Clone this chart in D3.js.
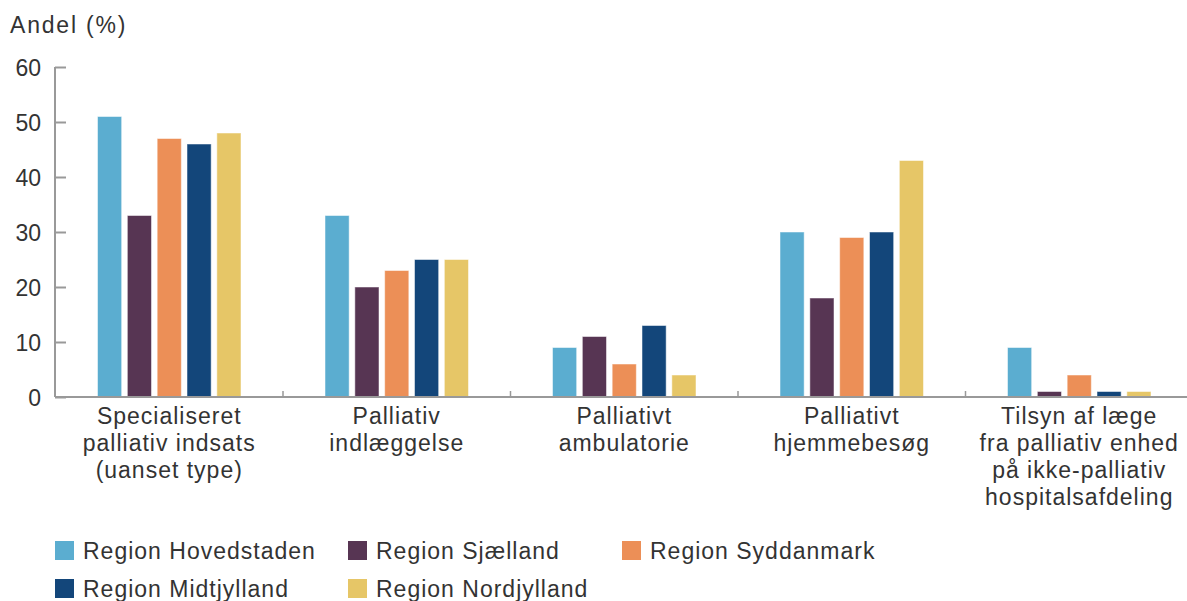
<!DOCTYPE html>
<html>
<head>
  <meta charset="utf-8">
  <title>Andel (%)</title>
  <style type="text/css">
    body { margin: 0; background: #fff; }
    text { font-family: "Liberation Sans", Arial, sans-serif; fill: #333; }
    .tick text { font-size: 23px; }
    .cat { font-size: 23px; letter-spacing: 1px; }
    .leg { font-size: 23px; letter-spacing: 1px; }
  </style>
</head>
<body>
<script src="https://cdnjs.cloudflare.com/ajax/libs/d3/7.8.5/d3.min.js"></script>
<script>
// data
var categories = [
  ['Specialiseret', 'palliativ indsats', '(uanset type)'],
  ['Palliativ', 'indlæggelse'],
  ['Palliativt', 'ambulatorie'],
  ['Palliativt', 'hjemmebesøg'],
  ['Tilsyn af læge', 'fra palliativ enhed', 'på ikke-palliativ', 'hospitalsafdeling']
];
var regions = ['Region Hovedstaden', 'Region Sjælland', 'Region Syddanmark', 'Region Midtjylland', 'Region Nordjylland'];
var colors = ['#5badd0', '#573553', '#ec8f57', '#13467a', '#e6c667'];
var hovedstaden = [51, 33, 9, 30, 9];
var sjaelland   = [33, 20, 11, 18, 1];
var syddanmark  = [47, 23, 6, 29, 4];
var midtjylland = [46, 25, 13, 30, 1];
var nordjylland = [48, 25, 4, 43, 1];
var yTicks = [0, 10, 20, 30, 40, 50, 60];

var series = [hovedstaden, sjaelland, syddanmark, midtjylland, nordjylland];

var W = 1187, H = 601;
var svg = d3.select('body').append('svg')
  .attr('width', W)
  .attr('height', H);

var x = d3.scaleBand()
  .domain(d3.range(categories.length))
  .range([55.5, 1193]);

var xInner = d3.scaleBand()
  .domain(d3.range(regions.length))
  .range([42, x.bandwidth() - 42])
  .paddingInner(0.19);

var y = d3.scaleLinear()
  .domain([0, 60])
  .range([397, 67]);

// y axis
var yAxis = svg.append('g')
  .attr('transform', 'translate(55,0)')
  .call(d3.axisRight(y).tickValues(yTicks).tickSize(11).tickFormat(d3.format('d')));
yAxis.select('.domain').attr('stroke', '#999').attr('stroke-width', 2).attr('d', 'M0,' + y(60) + 'V' + y(0));
yAxis.selectAll('.tick line').attr('stroke', '#999').attr('stroke-width', 2);
yAxis.selectAll('.tick text')
  .attr('x', -14)
  .attr('text-anchor', 'end')
  .attr('dy', '0.35em');

svg.append('text')
  .attr('x', 10)
  .attr('y', 33)
  .style('font-size', '23px')
  .style('letter-spacing', '1.8px')
  .text('Andel (%)');

// bars
var groups = svg.selectAll('g.grp')
  .data(categories)
  .enter().append('g')
  .attr('class', 'grp')
  .attr('transform', function(d, i){ return 'translate(' + x(i) + ',0)'; });

groups.selectAll('rect')
  .data(function(d, i){ return series.map(function(s, j){ return {r: j, v: s[i]}; }); })
  .enter().append('rect')
  .attr('x', function(d){ return xInner(d.r); })
  .attr('y', function(d){ return y(d.v); })
  .attr('width', xInner.bandwidth())
  .attr('height', function(d){ return y(0) - y(d.v); })
  .attr('fill', function(d){ return colors[d.r]; })
  .attr('stroke', 'rgba(255,255,255,0.5)')
  .attr('stroke-width', 1);

// x axis
svg.append('line')
  .attr('x1', 55).attr('x2', W)
  .attr('y1', y(0)).attr('y2', y(0))
  .attr('stroke', '#999').attr('stroke-width', 2);

svg.selectAll('line.sep')
  .data(d3.range(1, categories.length))
  .enter().append('line')
  .attr('class', 'sep')
  .attr('x1', function(d){ return x(d); })
  .attr('x2', function(d){ return x(d); })
  .attr('y1', y(0) - 6).attr('y2', y(0))
  .attr('stroke', '#999').attr('stroke-width', 1.5);

groups.each(function(d){
  var t = d3.select(this).append('text')
    .attr('class', 'cat')
    .attr('text-anchor', 'middle')
    .attr('x', x.bandwidth() / 2)
    .attr('y', 424);
  d.forEach(function(line, k){
    t.append('tspan')
      .attr('x', x.bandwidth() / 2)
      .attr('y', 424 + k * 27)
      .text(line);
  });
});

// legend
var legX = [55, 348, 622];
var legY = [541, 579];
var leg = svg.selectAll('g.leg')
  .data(regions)
  .enter().append('g')
  .attr('transform', function(d, i){ return 'translate(' + legX[i % 3] + ',' + legY[Math.floor(i / 3)] + ')'; });

leg.append('rect')
  .attr('width', 19)
  .attr('height', 19)
  .attr('fill', function(d, i){ return colors[i]; });

leg.append('text')
  .attr('class', 'leg')
  .attr('x', 28)
  .attr('y', 18)
  .text(function(d){ return d; });
</script>
</body>
</html>
